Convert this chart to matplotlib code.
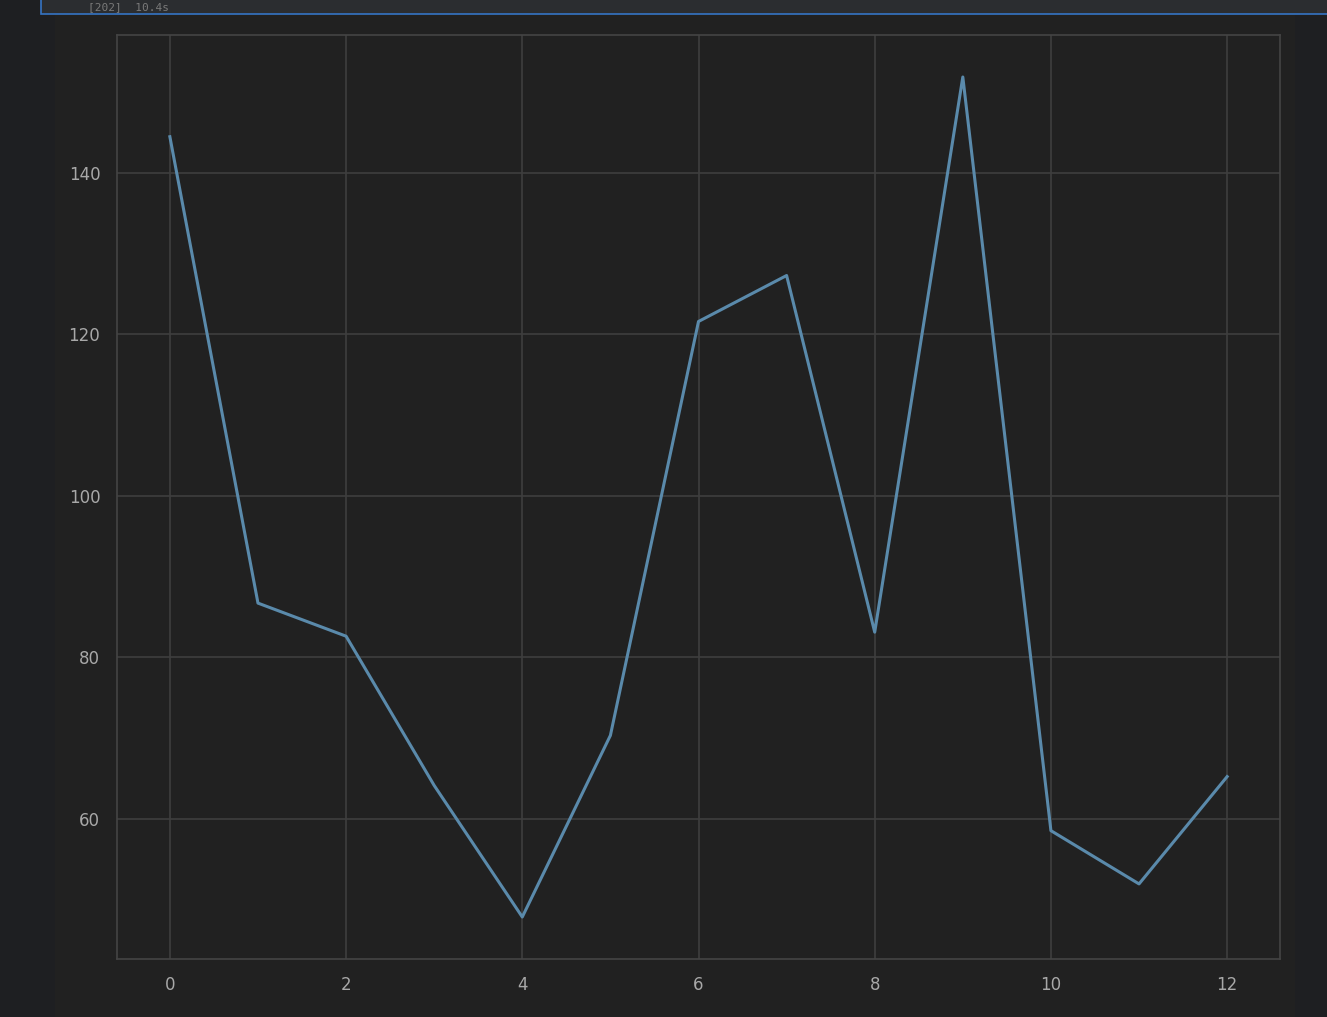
import matplotlib
matplotlib.use("Agg")
import matplotlib.pyplot as plt
from matplotlib.patches import Rectangle

# values
x_values = list(range(13))
y_values = [144.5, 86.7, 82.6, 64.1, 47.8, 70.3, 121.6, 127.3, 83.1, 151.9, 58.5, 51.9, 65.2]

W, H = 1327, 1017
fig = plt.figure(figsize=(W / 100, H / 100), dpi=100, facecolor="#1e1f22")

# notebook output area and the cell bar at the top
fig.patches.append(Rectangle((55 / W, 0), (1295 - 55) / W, 1, transform=fig.transFigure,
                             facecolor="#212121", edgecolor="none", zorder=-10))
fig.patches.append(Rectangle((41 / W, 1 - 14 / H), 1, 20 / H, transform=fig.transFigure,
                             facecolor="#2b2d30", edgecolor="#3574c4", linewidth=1.2, zorder=-5))
fig.text(88 / W, 1 - 7 / H, "[202]  10.4s", color="#7a7a7a", fontsize=8,
         family="DejaVu Sans Mono", va="center")

ax = fig.add_axes([117 / W, (H - 959) / H, (1280 - 117) / W, (959 - 35) / H])
ax.set_facecolor("#212121")
ax.plot(x_values, y_values, color="#5a8aab", linewidth=2.2)

ax.set_xticks([0, 2, 4, 6, 8, 10, 12])
ax.set_yticks([60, 80, 100, 120, 140])
ax.grid(True, color="#3e3e3e", linewidth=1.2)
ax.set_axisbelow(True)
for s in ax.spines.values():
    s.set_color("#444444")
    s.set_linewidth(1.2)
ax.tick_params(colors="#a8a8a8", length=0, labelsize=12)
ax.tick_params(axis="x", pad=12)
ax.tick_params(axis="y", pad=12)

fig.savefig("out.png", dpi=100, facecolor=fig.get_facecolor())
